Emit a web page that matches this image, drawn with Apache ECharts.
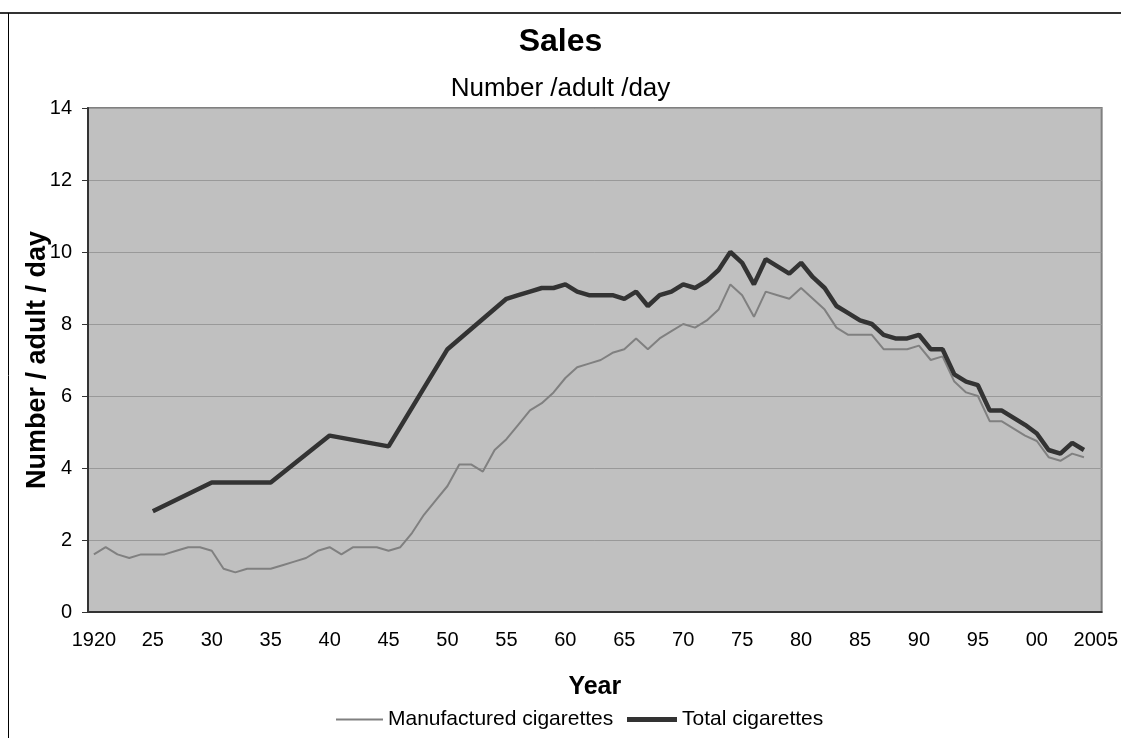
<!DOCTYPE html>
<html>
<head>
<meta charset="utf-8">
<title>Sales</title>
<script src="https://cdn.jsdelivr.net/npm/echarts@6/dist/echarts.min.js"></script>
<style>
  html, body { margin: 0; padding: 0; background: #fff; }
  #main { width: 1121px; height: 738px; }
</style>
</head>
<body>
<div id="main"></div>
<script>
// years on the category axis, 1920 .. 2005
var years = [];
for (var y = 1920; y <= 2005; y++) years.push(String(y));

// manufactured cigarettes, number / adult / day (1920 .. 2005)
var manufactured = [
  1.6, 1.8, 1.6, 1.5, 1.6, 1.6, 1.6, 1.7, 1.8, 1.8,   // 1920s
  1.7, 1.2, 1.1, 1.2, 1.2, 1.2, 1.3, 1.4, 1.5, 1.7,   // 1930s
  1.8, 1.6, 1.8, 1.8, 1.8, 1.7, 1.8, 2.2, 2.7, 3.1,   // 1940s
  3.5, 4.1, 4.1, 3.9, 4.5, 4.8, 5.2, 5.6, 5.8, 6.1,   // 1950s
  6.5, 6.8, 6.9, 7.0, 7.2, 7.3, 7.6, 7.3, 7.6, 7.8,   // 1960s
  8.0, 7.9, 8.1, 8.4, 9.1, 8.8, 8.2, 8.9, 8.8, 8.7,   // 1970s
  9.0, 8.7, 8.4, 7.9, 7.7, 7.7, 7.7, 7.3, 7.3, 7.3,   // 1980s
  7.4, 7.0, 7.1, 6.4, 6.1, 6.0, 5.3, 5.3, 5.1, 4.9,   // 1990s
  4.75, 4.3, 4.2, 4.4, 4.3, null                      // 2000s
];

// total cigarettes (only every 5 years before 1955)
var total = [
  null, null, null, null, null, 2.8, null, null, null, null,
  3.6, null, null, null, null, 3.6, null, null, null, null,
  4.9, null, null, null, null, 4.6, null, null, null, null,
  7.3, null, null, null, null, 8.7, 8.8, 8.9, 9.0, 9.0,
  9.1, 8.9, 8.8, 8.8, 8.8, 8.7, 8.9, 8.5, 8.8, 8.9,
  9.1, 9.0, 9.2, 9.5, 10.0, 9.7, 9.1, 9.8, 9.6, 9.4,
  9.7, 9.3, 9.0, 8.5, 8.3, 8.1, 8.0, 7.7, 7.6, 7.6,
  7.7, 7.3, 7.3, 6.6, 6.4, 6.3, 5.6, 5.6, 5.4, 5.2,
  4.96, 4.5, 4.4, 4.7, 4.5, null
];

var font = "Arial, 'Liberation Sans', sans-serif";

var myChart = echarts.init(document.getElementById("main"));
var option = {
  animation: false,
  backgroundColor: "#ffffff",
  textStyle: { fontFamily: font, color: "#000" },
  title: [
    {
      text: "Sales",
      left: "center",
      top: 21,
      textStyle: { fontSize: 32, fontWeight: "bold", color: "#000", fontFamily: font },
    },
    {
      text: "Number /adult /day",
      left: "center",
      top: 71,
      textStyle: { fontSize: 26, fontWeight: "normal", color: "#000", fontFamily: font },
    },
  ],
  graphic: [
    { type: "line", shape: { x1: 0, y1: 13, x2: 1121, y2: 13 }, style: { stroke: "#333", lineWidth: 2 } },
    { type: "line", shape: { x1: 8.5, y1: 13, x2: 8.5, y2: 738 }, style: { stroke: "#000", lineWidth: 1 } },
  ],
  grid: {
    left: 88,
    right: 19,
    top: 108,
    bottom: 126,
    show: true,
    backgroundColor: "#c0c0c0",
    borderColor: "#808080",
    borderWidth: 2,
  },
  legend: [
    {
      left: 331,
      top: 704,
      icon: "rect",
      itemWidth: 47,
      itemHeight: 2,
      textStyle: { fontSize: 21, color: "#000", fontFamily: font },
      data: ["Manufactured cigarettes"],
    },
    {
      left: 622,
      top: 704,
      icon: "rect",
      itemWidth: 50,
      itemHeight: 5,
      textStyle: { fontSize: 21, color: "#000", fontFamily: font },
      data: ["Total cigarettes"],
    },
  ],
  xAxis: {
    type: "category",
    data: years,
    boundaryGap: true,
    name: "Year",
    nameLocation: "middle",
    nameGap: 63,
    nameTextStyle: { fontSize: 25, fontWeight: "bold", color: "#000", fontFamily: font },
    axisLine: { lineStyle: { color: "#333", width: 2 } },
    axisTick: { interval: 4, length: 7, lineStyle: { color: "#333" } },
    axisLabel: {
      interval: 4,
      fontSize: 20,
      color: "#000",
      margin: 18,
      formatter: function (v) {
        if (v === "1920" || v === "2005") return v;
        return v.slice(2);
      },
    },
    splitLine: { show: false },
  },
  yAxis: {
    type: "value",
    min: 0,
    max: 14,
    interval: 2,
    name: "Number / adult / day",
    nameLocation: "middle",
    nameGap: 37,
    nameMoveOverlap: false,
    nameTextStyle: { fontSize: 27, fontWeight: "bold", color: "#000", fontFamily: font },
    axisLine: { show: true, lineStyle: { color: "#333", width: 2 } },
    axisTick: { show: true, length: 6, lineStyle: { color: "#333" } },
    axisLabel: { fontSize: 20, color: "#000", margin: 16 },
    splitLine: { lineStyle: { color: "#999999", width: 1 } },
  },
  series: [
    {
      name: "Manufactured cigarettes",
      type: "line",
      data: manufactured,
      symbol: "none",
      lineStyle: { color: "#808080", width: 2 },
      itemStyle: { color: "#808080" },
    },
    {
      name: "Total cigarettes",
      type: "line",
      data: total,
      connectNulls: true,
      symbol: "none",
      lineStyle: { color: "#333333", width: 4.5 },
      itemStyle: { color: "#333333" },
    },
  ],
};

option && myChart.setOption(option);
window.addEventListener("resize", function () {
  myChart.resize();
});
</script>
</body>
</html>
